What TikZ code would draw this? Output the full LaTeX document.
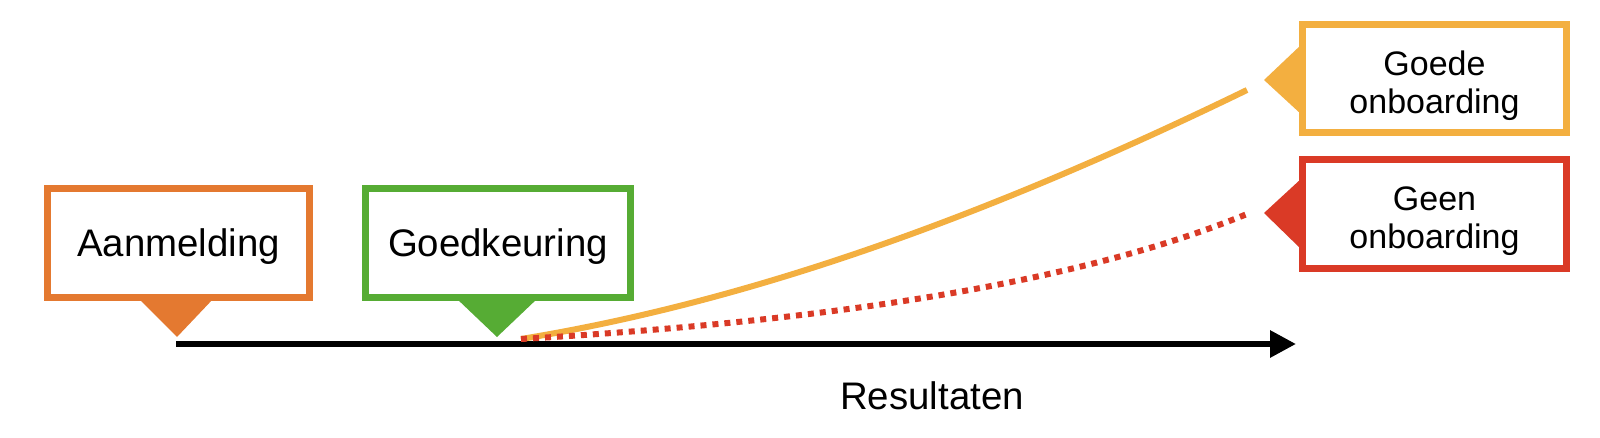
\documentclass[tikz,border=0pt]{standalone}
\usepackage{fontspec}
\setmainfont{Liberation Sans}
\usetikzlibrary{arrows.meta}
\definecolor{cOrange}{RGB}{228,121,48}
\definecolor{cGreen}{RGB}{86,172,52}
\definecolor{cYellow}{RGB}{243,175,64}
\definecolor{cRed}{RGB}{218,58,38}
\begin{document}
\begin{tikzpicture}[x=0.5pt,y=-0.5pt,
  box/.style={draw, line width=3.6pt, fill=white, inner sep=0pt, align=center},
  bigtext/.style={font=\fontsize{19.2}{22}\selectfont, text height=13.5pt, text depth=0pt},
  smalltext/.style={font=\fontsize{17}{19}\selectfont, text height=35pt, text depth=0pt},
  curve/.style={line width=3pt},
  axisline/.style={line width=3pt, -{Triangle[length=13pt,width=13pt]}}]
\useasboundingbox (0,0) rectangle (1600,438);

% pointers
\fill[cOrange] (138,298) -- (214,298) -- (177,337) -- cycle;
\fill[cGreen] (456,298) -- (538,298) -- (497,337) -- cycle;
\fill[cYellow] (1302,44) -- (1302,115) -- (1264,80) -- cycle;
\fill[cRed] (1302,178) -- (1302,250) -- (1264,213) -- cycle;

% boxes
\node[box, draw=cOrange, minimum width=130.9pt, minimum height=54.4pt, bigtext] (aan) at (178.5,243) {Aanmelding};
\node[box, draw=cGreen, minimum width=132.4pt, minimum height=54.4pt, bigtext] (goed) at (498,243) {Goedkeuring};
\node[box, draw=cYellow, minimum width=131.9pt, minimum height=53.9pt, smalltext] (goede) at (1434.5,78.5) {Goede\\onboarding};
\node[box, draw=cRed, minimum width=131.9pt, minimum height=54.4pt, smalltext] (geen) at (1434.5,214) {Geen\\onboarding};

% axis
\coordinate (axS) at (176,344);
\coordinate (axE) at (1296,344);
\draw[axisline] (axS) -- (axE);
\node[font=\fontsize{19.2}{22}\selectfont] (res) at (932,396) {Resultaten};

% curves
\coordinate (cs) at (521,339);
\coordinate (ge) at (1247,90);
\coordinate (ne) at (1247,214);
\draw[curve, cYellow] (cs) .. controls (760,300) and (1000,210) .. (ge);
\draw[curve, cRed, dash pattern=on 3pt off 3pt] (cs) .. controls (760,325) and (1050,295) .. (ne);
\end{tikzpicture}
\end{document}
